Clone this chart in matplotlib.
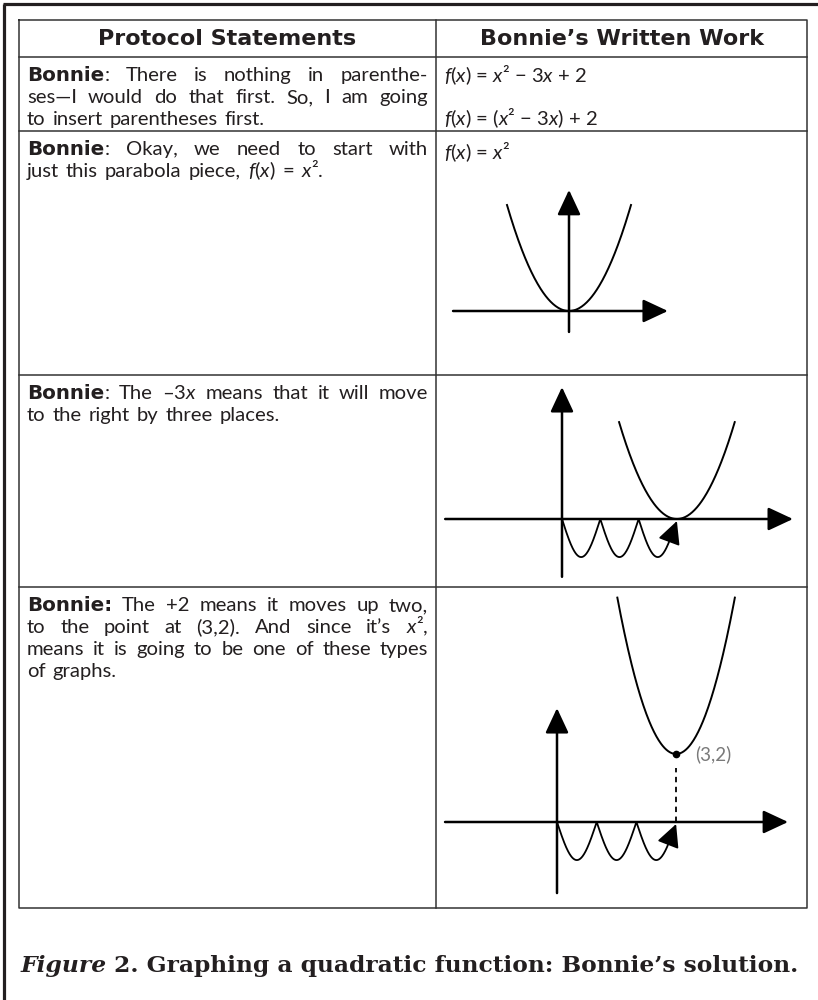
import re
import numpy as np
import matplotlib
matplotlib.use('Agg')
import matplotlib.pyplot as plt

plt.rcParams['font.family'] = ['Lato', 'DejaVu Sans']
plt.rcParams['mathtext.fontset'] = 'custom'
plt.rcParams['mathtext.rm'] = 'Lato'
plt.rcParams['mathtext.it'] = 'Lato:italic'
plt.rcParams['mathtext.bf'] = 'DejaVu Sans:bold'

INK = '#231f20'

# ---- content ----
headers = ['Protocol Statements', 'Bonnie’s Written Work']

statements = [
    ['**Bonnie**: There is nothing in parenthe-',
     'ses—I would do that first. So, I am going',
     'to insert parentheses first.'],
    ['**Bonnie**: Okay, we need to start with',
     'just this parabola piece, $f$($x$) = $x$².'],
    ['**Bonnie**: The –3$x$ means that it will move',
     'to the right by three places.'],
    ['**Bonnie:** The +2 means it moves up two,',
     'to the point at (3,2). And since it’s $x$²,',
     'means it is going to be one of these types',
     'of graphs.'],
]

work_eqs = [
    ['$f$($x$) = $x$² − 3$x$ + 2', '$f$($x$) = ($x$² − 3$x$) + 2'],
    ['$f$($x$) = $x$²'],
    [],
    [],
]

caption_italic = 'Figure'
caption_rest = '2. Graphing a quadratic function: Bonnie’s solution.'

# parabola sketches: vertex, half width, steepness
vertex_x = [0, 3, 3]
vertex_y = [0, 0, 2]
half_width = [2.0, 1.51, 1.48]
steepness = [1.0, 1.25, 2.1]
# axis extents of each sketch (data units)
x_axis_ext = [(-3.74, 3.19), (-3.05, 6.03), (-2.82, 5.82)]
y_axis_ext = [(-0.79, 4.57), (-1.7, 3.88), (-2.09, 3.35)]
# the three unit hops to the right
hop_edges = [0, 1, 2, 3]
hop_depth = 1.12
point_label = '(3,2)'

# ---- figure / page layout ----
W, H = 818, 1000
fig = plt.figure(figsize=(W / 100, H / 100), dpi=100)
ax = fig.add_axes([0, 0, 1, 1])
ax.set_xlim(0, W)
ax.set_ylim(H, 0)
ax.axis('off')
rend = fig.canvas.get_renderer()

# outer frame (top and left only)
ax.plot([4, 4], [4, H], color=INK, lw=2.3, solid_capstyle='butt')
ax.plot([3, W], [4, 4], color=INK, lw=2.3, solid_capstyle='butt')

tl, tr, tt, tb = 19, 807, 20, 908
col = 436
row_lines = [57, 131, 375, 587]
ax.plot([tl, tr, tr, tl, tl], [tt, tt, tb, tb, tt], color='#333333', lw=1.1)
ax.plot([col, col], [tt, tb], color='#333333', lw=1.1)
for yy in row_lines:
    ax.plot([tl, tr], [yy, yy], color='#333333', lw=1.1)

ax.text((tl + col) / 2, 39, headers[0], ha='center', va='center',
        fontsize=16, family='DejaVu Sans', fontweight='bold', color=INK)
ax.text((col + tr) / 2, 39, headers[1], ha='center', va='center',
        fontsize=16, family='DejaVu Sans', fontweight='bold', color=INK)

BODY = 14.6
SPACE = 7


def make_word(word, size):
    parts = []
    for p in re.split(r'(\*\*.+?\*\*)', word):
        if not p:
            continue
        if p.startswith('**'):
            t = ax.text(0, 0, p.strip('*'), fontsize=size - 0.3, family='DejaVu Sans',
                        fontweight='bold', va='baseline', ha='left', color=INK)
        else:
            t = ax.text(0, 0, p, fontsize=size, va='baseline', ha='left', color=INK)
        parts.append((t, t.get_window_extent(rend).width))
    return parts


def draw_line(x0, y, line, size, right=None):
    words = [make_word(w, size) for w in line.split(' ')]
    widths = [sum(w for _, w in parts) for parts in words]
    gap = SPACE
    if right is not None and len(words) > 1:
        gap = (right - x0 - sum(widths)) / (len(words) - 1)
    x = x0
    for parts, wsum in zip(words, widths):
        xx = x
        for t, w in parts:
            t.set_position((xx, y))
            xx += w
        x += wsum + gap


row_tops = [57, 131, 375, 587]
LEAD = 22
for top, lines in zip(row_tops, statements):
    for i, line in enumerate(lines):
        base = top + 24 + i * LEAD
        right = 428 if i < len(lines) - 1 else None
        draw_line(27, base, line, BODY, right)

eq_rows = [[82, 125], [159], [], []]
for ys, eqs in zip(eq_rows, work_eqs):
    for yb, eq in zip(ys, eqs):
        ax.text(444, yb, eq, fontsize=BODY, va='baseline', ha='left', color=INK)

# caption
CAP = 16.8
t1 = ax.text(21, 972, caption_italic, fontsize=CAP, family='DejaVu Serif',
             style='italic', fontweight='bold', va='baseline', color=INK)
w1 = t1.get_window_extent(rend).width
ax.text(21 + w1 + 7, 972, caption_rest, fontsize=CAP, family='DejaVu Serif',
        fontweight='bold', va='baseline', color=INK)

# ---- sketches ----
graph_boxes = [(440, 133, 805, 373), (440, 377, 805, 585), (440, 589, 805, 906)]
origins = [(569, 311), (562, 519), (557, 822)]
units = [(31, 26.5), (38.3, 34), (39.7, 34)]

arrow_kw = dict(arrowstyle='-|>,head_length=0.9,head_width=0.42', color='black',
                lw=1.8, shrinkA=0, shrinkB=0, mutation_scale=17)

for g in range(3):
    x0, y0, x1, y1 = graph_boxes[g]
    ox, oy = origins[g]
    ux, uy = units[g]
    gax = fig.add_axes([x0 / W, 1 - y1 / H, (x1 - x0) / W, (y1 - y0) / H])
    gax.set_xlim((x0 - ox) / ux, (x1 - ox) / ux)
    gax.set_ylim((oy - y1) / uy, (oy - y0) / uy)
    gax.axis('off')
    gax.patch.set_alpha(0)

    xa, xb = x_axis_ext[g]
    ya, yb = y_axis_ext[g]
    gax.annotate('', xy=(xb, 0), xytext=(xa, 0), arrowprops=arrow_kw,
                 annotation_clip=False)
    gax.annotate('', xy=(0, yb), xytext=(0, ya), arrowprops=arrow_kw,
                 annotation_clip=False)

    vx, vy = vertex_x[g], vertex_y[g]
    px = np.linspace(vx - half_width[g], vx + half_width[g], 200)
    gax.plot(px, vy + steepness[g] * (px - vx) ** 2, color='black', lw=1.4,
             clip_on=False)

    if g > 0:
        hx = np.linspace(hop_edges[0], hop_edges[-1] - 0.12, 300)
        gax.plot(hx, -hop_depth * np.abs(np.sin(np.pi * hx)), color='black',
                 lw=1.3, clip_on=False)
        xs = hop_edges[-1] - 0.18
        gax.annotate('', xy=(hop_edges[-1], -0.06),
                     xytext=(xs, -hop_depth * abs(np.sin(np.pi * xs))),
                     arrowprops=dict(arrowstyle='-|>,head_length=1.0,head_width=0.5',
                                     color='black', lw=1.3, shrinkA=0, shrinkB=0,
                                     mutation_scale=14),
                     annotation_clip=False)

    if g == 2:
        gax.plot([vx, vx], [0, vy - 0.4], color='black', lw=1.3,
                 linestyle=(0, (3, 2.5)), clip_on=False)
        gax.plot([vx], [vy], 'o', color='black', ms=4.5, clip_on=False)
        gax.text(vx + 0.48, vy, point_label, fontsize=13.5, color='#7a7a7a',
                 va='center', ha='left')

fig.savefig('out.png', dpi=100)
